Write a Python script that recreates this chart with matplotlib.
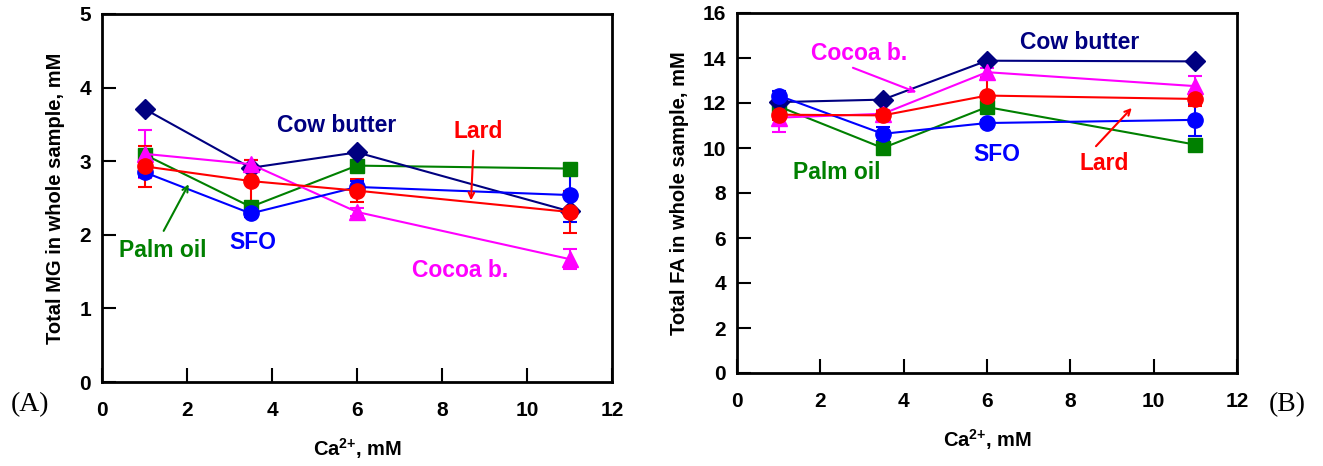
import matplotlib.pyplot as plt

plt.rcParams['mathtext.fontset'] = 'custom'
plt.rcParams['mathtext.rm'] = 'Liberation Sans:bold'
plt.rcParams['mathtext.bf'] = 'Liberation Sans:bold'
plt.rcParams['mathtext.it'] = 'Liberation Sans:bold'

# Ca2+ concentrations (mM)
ca = [1, 3.5, 6, 11]

# Panel A: total MG in whole sample (mM)
mg_cocoa = [3.10, 2.96, 2.31, 1.67]
mg_cocoa_err = [0.33, 0.06, 0.05, 0.14]
mg_sfo = [2.85, 2.29, 2.65, 2.54]
mg_sfo_err = [0.07, 0.05, 0.08, 0.36]
mg_lard = [2.93, 2.73, 2.60, 2.31]
mg_lard_err = [0.28, 0.28, 0.16, 0.29]
mg_palm = [3.09, 2.38, 2.94, 2.90]
mg_cow = [3.71, 2.91, 3.12, 2.32]

# Panel B: total FA in whole sample (mM)
fa_cocoa = [11.35, 11.52, 13.37, 12.75]
fa_cocoa_err = [0.65, 0.15, 0.2, 0.45]
fa_sfo = [12.33, 10.63, 11.11, 11.25]
fa_sfo_err = [0.2, 0.3, 0.15, 0.7]
fa_lard = [11.48, 11.45, 12.33, 12.18]
fa_lard_err = [0.25, 0.2, 0.78, 0.3]
fa_palm = [11.85, 10.00, 11.82, 10.15]
fa_cow = [12.04, 12.15, 13.88, 13.85]

NAVY = '#000080'
GREEN = '#008000'
RED = '#ff0000'
BLUE = '#0000ff'
MAG = '#ff00ff'

tick_font = {'family': ['Liberation Sans'], 'weight': 'bold', 'size': 15}
lab_font = {'family': ['Liberation Sans'], 'weight': 'bold', 'size': 14.5}
ann_font = {'family': ['Liberation Sans', 'DejaVu Sans'], 'weight': 'bold', 'size': 16.5}

fig = plt.figure(figsize=(13.23, 4.66), dpi=100)
axA = fig.add_axes([102/1323, 1-382/466, 510/1323, 368/466])
axB = fig.add_axes([737/1323, 1-373/466, 500/1323, 360/466])


def draw(ax, cocoa, cocoa_err, sfo, sfo_err, lard, lard_err, palm, cow):
    kw = dict(linewidth=1.5, capsize=5, elinewidth=1.5, capthick=1.5)
    ax.errorbar(ca, cocoa, yerr=cocoa_err, color=MAG, marker='^', markersize=11, **kw)
    ax.errorbar(ca, sfo, yerr=sfo_err, color=BLUE, marker='o', markersize=11, **kw)
    ax.errorbar(ca, lard, yerr=lard_err, color=RED, marker='o', markersize=11, **kw)
    ax.plot(ca, palm, color=GREEN, marker='s', markersize=10, linewidth=1.5)
    ax.plot(ca, cow, color=NAVY, marker='D', markersize=10, linewidth=1.5)
    ax.set_xlim(0, 12)
    ax.set_xticks(range(0, 13, 2))
    for s in ax.spines.values():
        s.set_linewidth(2)
    ax.tick_params(direction='in', length=10, width=1.5, top=False, right=False, pad=8)
    ax.tick_params(axis='x', pad=14)
    ax.set_xlabel('Ca$^{2{+}}$, mM', fontdict=lab_font, labelpad=11)


draw(axA, mg_cocoa, mg_cocoa_err, mg_sfo, mg_sfo_err, mg_lard, mg_lard_err, mg_palm, mg_cow)
axA.set_ylim(0, 5)
axA.set_yticks(range(0, 6))
axA.set_ylabel('Total MG in whole sample, mM', fontdict=lab_font, labelpad=10)
for lbl in axA.get_xticklabels() + axA.get_yticklabels():
    lbl.set_fontproperties(tick_font)

axA.text(5.53, 3.49, 'Cow butter', color=NAVY, ha='center', va='center', fontdict=ann_font)
axA.text(8.85, 3.40, 'Lard', color=RED, ha='center', va='center', fontdict=ann_font)
axA.text(1.44, 1.79, 'Palm oil', color=GREEN, ha='center', va='center', fontdict=ann_font)
axA.text(3.55, 1.89, 'SFO', color=BLUE, ha='center', va='center', fontdict=ann_font)
axA.text(8.42, 1.52, 'Cocoa b.', color=MAG, ha='center', va='center', fontdict=ann_font)
axA.annotate('', xy=(8.68, 2.43), xytext=(8.74, 3.18),
             arrowprops=dict(arrowstyle='->', color=RED, lw=1.5))
axA.annotate('', xy=(2.07, 2.72), xytext=(1.42, 2.02),
             arrowprops=dict(arrowstyle='->', color=GREEN, lw=1.5))

draw(axB, fa_cocoa, fa_cocoa_err, fa_sfo, fa_sfo_err, fa_lard, fa_lard_err, fa_palm, fa_cow)
axB.set_ylim(0, 16)
axB.set_yticks(range(0, 17, 2))
axB.set_ylabel('Total FA in whole sample, mM', fontdict=lab_font, labelpad=10)
for lbl in axB.get_xticklabels() + axB.get_yticklabels():
    lbl.set_fontproperties(tick_font)

axB.text(8.23, 14.68, 'Cow butter', color=NAVY, ha='center', va='center', fontdict=ann_font)
axB.text(2.93, 14.21, 'Cocoa b.', color=MAG, ha='center', va='center', fontdict=ann_font)
axB.text(6.23, 9.73, 'SFO', color=BLUE, ha='center', va='center', fontdict=ann_font)
axB.text(8.81, 9.33, 'Lard', color=RED, ha='center', va='center', fontdict=ann_font)
axB.text(2.40, 8.89, 'Palm oil', color=GREEN, ha='center', va='center', fontdict=ann_font)
axB.annotate('', xy=(4.37, 12.43), xytext=(2.72, 13.61),
             arrowprops=dict(arrowstyle='->', color=MAG, lw=1.5))
axB.annotate('', xy=(9.52, 11.87), xytext=(8.57, 9.99),
             arrowprops=dict(arrowstyle='->', color=RED, lw=1.5))

fig.text(30/1323, 1-405/466, '(A)', family=['Liberation Serif', 'DejaVu Serif'], fontsize=20,
         ha='center', va='center')
fig.text(1287/1323, 1-405/466, '(B)', family=['Liberation Serif', 'DejaVu Serif'], fontsize=20,
         ha='center', va='center')

fig.savefig('out.png', dpi=100)
